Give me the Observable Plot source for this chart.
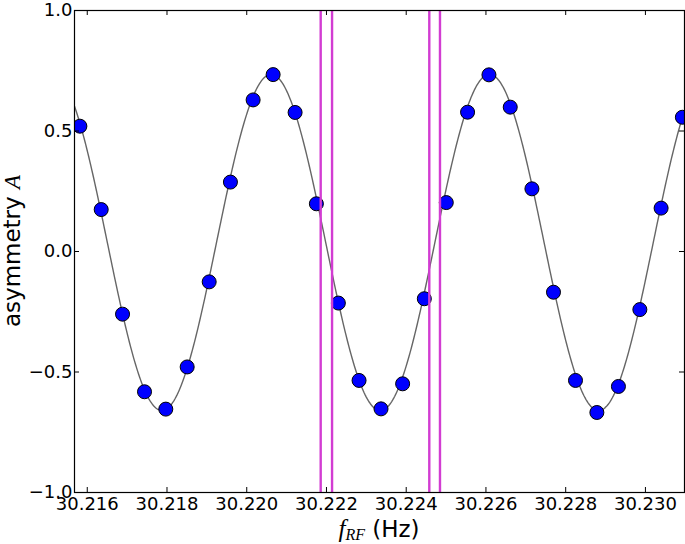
<!DOCTYPE html>
<html><head><meta charset="utf-8">
<script src="https://cdn.jsdelivr.net/npm/d3@7"></script>
<script src="https://cdn.jsdelivr.net/npm/@observablehq/plot@0.6"></script>
<style>
body{margin:0;background:#fff;}
svg{display:block;}
</style>
</head><body><div id="chart"></div>
<script>
// measured points: RF frequency (Hz) and asymmetry A
const freq = [30.215815, 30.216350, 30.216885, 30.217436, 30.217970, 30.218506, 30.219058, 30.219591,
  30.220160, 30.220662, 30.221213, 30.221747, 30.222298, 30.222817, 30.223368, 30.223910, 30.224454,
  30.225005, 30.225539, 30.226075, 30.226609, 30.227153, 30.227694, 30.228246, 30.228782, 30.229323,
  30.229860, 30.230393, 30.230927];
const asym = [0.520, 0.174, -0.260, -0.582, -0.654, -0.479, -0.126, 0.288,
  0.629, 0.734, 0.577, 0.198, -0.214, -0.535, -0.653, -0.549, -0.196,
  0.203, 0.578, 0.733, 0.599, 0.260, -0.169, -0.535, -0.668, -0.560,
  -0.241, 0.180, 0.557];
// vertical marker lines (Hz)
const markerFreqs = [30.221855, 30.222140, 30.224579, 30.224847];
// fitted sinusoid parameters: A = offset - amp*cos(2π (f - trough)/period)
const fitOffset = 0.0375, fitAmp = 0.6975, fitTrough = 30.22335, fitPeriod = 0.0054774;
// axes
const xDomain = [30.21568, 30.23098];
const yDomain = [-1, 1];
const xTicks = [30.216, 30.218, 30.220, 30.222, 30.224, 30.226, 30.228, 30.230];
const yTicks = [-1, -0.5, 0, 0.5, 1];

const points = freq.map((f, i) => ({f, A: asym[i]}));
const fitCurve = d3.range(0, 601).map(i => {
  const f = xDomain[0] + (xDomain[1] - xDomain[0]) * i / 600;
  return {f, A: fitOffset - fitAmp * Math.cos(2 * Math.PI * (f - fitTrough) / fitPeriod)};
});

const W = 685, H = 544, mL = 74, mR = 1, mT = 10, mB = 52;
const pw = W - mL - mR, ph = H - mT - mB, tl = 5;

const chart = Plot.plot({
  width: W, height: H,
  marginLeft: mL, marginRight: mR, marginTop: mT, marginBottom: mB,
  style: {fontFamily: "DejaVu Sans", fontSize: "18px", color: "#000", background: "#fff"},
  x: {domain: xDomain, label: null},
  y: {domain: yDomain, label: null},
  marks: [
    Plot.line(fitCurve, {x: "f", y: "A", stroke: "#666", strokeWidth: 1.4, clip: true}),
    Plot.dot(points, {x: "f", y: "A", r: 7, fill: "#0000ff", stroke: "#000", strokeWidth: 1, clip: true}),
    Plot.ruleX(markerFreqs, {stroke: "#d23cd2", strokeWidth: 2.4}),
    Plot.frame({stroke: "#000", strokeWidth: 1.2}),
    Plot.tickX(xTicks, {x: d => d, insetTop: ph - tl, stroke: "#000"}),
    Plot.tickX(xTicks, {x: d => d, insetBottom: ph - tl, stroke: "#000"}),
    Plot.tickY(yTicks, {y: d => d, insetRight: pw - tl, stroke: "#000"}),
    Plot.tickY(yTicks, {y: d => d, insetLeft: pw - tl, stroke: "#000"}),
    Plot.axisX(xTicks, {anchor: "bottom", tickSize: 0, tickPadding: 5, tickFormat: d3.format(".3f"), fontSize: 18, label: null}),
    Plot.axisY(yTicks, {anchor: "left", tickSize: 0, tickPadding: 2, tickFormat: d3.format(".1f"), fontSize: 18, label: null})
  ]
});
document.getElementById("chart").appendChild(chart);

const svg = d3.select(chart);
// y axis label
const yl = svg.append("text")
  .attr("transform", `translate(20,${mT + ph / 2}) rotate(-90)`)
  .attr("text-anchor", "middle")
  .attr("fill", "#000")
  .style("font-size", "23px");
yl.append("tspan").attr("font-family", "DejaVu Sans").text("asymmetry ");
yl.append("tspan").attr("font-family", "Liberation Serif").attr("font-style", "italic").text("A");
// x axis label
const xl = svg.append("text")
  .attr("x", mL + pw / 2).attr("y", 537)
  .attr("text-anchor", "middle")
  .attr("fill", "#000")
  .style("font-size", "23px");
xl.append("tspan").attr("font-family", "Liberation Serif").attr("font-style", "italic").style("font-size", "25px").text("f");
xl.append("tspan").attr("font-family", "Liberation Serif").attr("font-style", "italic")
  .attr("dy", 3).style("font-size", "16px").text("RF");
xl.append("tspan").attr("font-family", "DejaVu Sans").attr("dy", -3).text(" (Hz)");
</script>
</body></html>
